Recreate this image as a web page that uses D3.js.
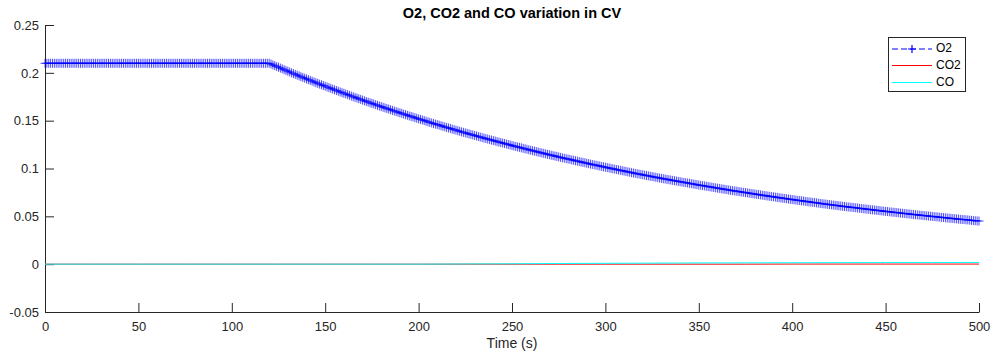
<!DOCTYPE html>
<html>
<head>
<meta charset="utf-8">
<script src="https://cdn.jsdelivr.net/npm/d3@7"></script>
<style>
  html, body { margin: 0; padding: 0; background: #fff; }
  svg { display: block; font-family: "Liberation Sans", Arial, sans-serif; }
</style>
</head>
<body>
<svg id="chart" width="995" height="358"></svg>
<script>
// Sample times (s) for the O2 trace, one per second from 0 to 500
const timeO2 = d3.range(0, 501, 1);

// O2 fraction in the control volume
const o2 = [
  0.21, 0.21, 0.21, 0.21, 0.21, 0.21, 0.21, 0.21, 0.21, 0.21,
  0.21, 0.21, 0.21, 0.21, 0.21, 0.21, 0.21, 0.21, 0.21, 0.21,
  0.21, 0.21, 0.21, 0.21, 0.21, 0.21, 0.21, 0.21, 0.21, 0.21,
  0.21, 0.21, 0.21, 0.21, 0.21, 0.21, 0.21, 0.21, 0.21, 0.21,
  0.21, 0.21, 0.21, 0.21, 0.21, 0.21, 0.21, 0.21, 0.21, 0.21,
  0.21, 0.21, 0.21, 0.21, 0.21, 0.21, 0.21, 0.21, 0.21, 0.21,
  0.21, 0.21, 0.21, 0.21, 0.21, 0.21, 0.21, 0.21, 0.21, 0.21,
  0.21, 0.21, 0.21, 0.21, 0.21, 0.21, 0.21, 0.21, 0.21, 0.21,
  0.21, 0.21, 0.21, 0.21, 0.21, 0.21, 0.21, 0.21, 0.21, 0.21,
  0.21, 0.21, 0.21, 0.21, 0.21, 0.21, 0.21, 0.21, 0.21, 0.21,
  0.21, 0.21, 0.21, 0.21, 0.21, 0.21, 0.21, 0.21, 0.21, 0.21,
  0.21, 0.21, 0.21, 0.21, 0.21, 0.21, 0.21, 0.21, 0.21, 0.21,
  0.2100, 0.2092, 0.2083, 0.2075, 0.2066, 0.2058, 0.2050, 0.2042, 0.2033, 0.2025,
  0.2017, 0.2009, 0.2000, 0.1992, 0.1984, 0.1976, 0.1968, 0.1960, 0.1952, 0.1944,
  0.1937, 0.1929, 0.1921, 0.1913, 0.1905, 0.1897, 0.1890, 0.1882, 0.1875, 0.1867,
  0.1860, 0.1852, 0.1845, 0.1838, 0.1830, 0.1823, 0.1815, 0.1808, 0.1800, 0.1793,
  0.1786, 0.1779, 0.1772, 0.1765, 0.1757, 0.1750, 0.1743, 0.1736, 0.1729, 0.1722,
  0.1715, 0.1708, 0.1701, 0.1694, 0.1687, 0.1680, 0.1674, 0.1667, 0.1660, 0.1653,
  0.1647, 0.1640, 0.1634, 0.1627, 0.1621, 0.1614, 0.1607, 0.1601, 0.1594, 0.1588,
  0.1582, 0.1576, 0.1569, 0.1563, 0.1556, 0.1550, 0.1544, 0.1538, 0.1531, 0.1525,
  0.1519, 0.1513, 0.1507, 0.1501, 0.1494, 0.1488, 0.1482, 0.1476, 0.1470, 0.1464,
  0.1459, 0.1453, 0.1447, 0.1441, 0.1435, 0.1429, 0.1424, 0.1418, 0.1412, 0.1406,
  0.1401, 0.1395, 0.1389, 0.1383, 0.1378, 0.1372, 0.1367, 0.1361, 0.1356, 0.1351,
  0.1345, 0.1340, 0.1334, 0.1329, 0.1323, 0.1318, 0.1313, 0.1308, 0.1302, 0.1297,
  0.1292, 0.1287, 0.1281, 0.1276, 0.1271, 0.1266, 0.1261, 0.1256, 0.1251, 0.1246,
  0.1240, 0.1235, 0.1230, 0.1225, 0.1221, 0.1216, 0.1211, 0.1206, 0.1201, 0.1196,
  0.1191, 0.1186, 0.1182, 0.1177, 0.1172, 0.1167, 0.1163, 0.1158, 0.1153, 0.1148,
  0.1144, 0.1139, 0.1135, 0.1130, 0.1126, 0.1121, 0.1116, 0.1111, 0.1107, 0.1103,
  0.1099, 0.1095, 0.1090, 0.1086, 0.1081, 0.1077, 0.1072, 0.1068, 0.1064, 0.1060,
  0.1055, 0.1051, 0.1046, 0.1042, 0.1038, 0.1034, 0.1030, 0.1026, 0.1021, 0.1017,
  0.1013, 0.1009, 0.1005, 0.1001, 0.0997, 0.0993, 0.0989, 0.0985, 0.0981, 0.0977,
  0.0973, 0.0969, 0.0965, 0.0961, 0.0957, 0.0953, 0.0949, 0.0945, 0.0942, 0.0938,
  0.0934, 0.0930, 0.0927, 0.0923, 0.0919, 0.0915, 0.0912, 0.0908, 0.0904, 0.0900,
  0.0897, 0.0893, 0.0890, 0.0886, 0.0883, 0.0879, 0.0876, 0.0872, 0.0869, 0.0865,
  0.0862, 0.0858, 0.0855, 0.0852, 0.0848, 0.0845, 0.0841, 0.0838, 0.0834, 0.0831,
  0.0827, 0.0824, 0.0821, 0.0818, 0.0814, 0.0811, 0.0808, 0.0805, 0.0801, 0.0798,
  0.0795, 0.0792, 0.0788, 0.0785, 0.0782, 0.0779, 0.0775, 0.0772, 0.0769, 0.0766,
  0.0763, 0.0760, 0.0757, 0.0754, 0.0751, 0.0748, 0.0745, 0.0742, 0.0739, 0.0736,
  0.0733, 0.0730, 0.0727, 0.0724, 0.0721, 0.0718, 0.0715, 0.0712, 0.0709, 0.0706,
  0.0704, 0.0701, 0.0698, 0.0695, 0.0692, 0.0689, 0.0687, 0.0684, 0.0681, 0.0678,
  0.0676, 0.0673, 0.0670, 0.0667, 0.0665, 0.0662, 0.0660, 0.0657, 0.0654, 0.0651,
  0.0649, 0.0646, 0.0644, 0.0641, 0.0638, 0.0635, 0.0633, 0.0630, 0.0628, 0.0625,
  0.0623, 0.0620, 0.0618, 0.0615, 0.0613, 0.0610, 0.0608, 0.0605, 0.0603, 0.0600,
  0.0598, 0.0596, 0.0594, 0.0592, 0.0589, 0.0587, 0.0584, 0.0582, 0.0579, 0.0577,
  0.0575, 0.0573, 0.0570, 0.0568, 0.0565, 0.0563, 0.0561, 0.0559, 0.0556, 0.0554,
  0.0552, 0.0550, 0.0547, 0.0545, 0.0543, 0.0541, 0.0539, 0.0537, 0.0534, 0.0532,
  0.0530, 0.0528, 0.0526, 0.0524, 0.0521, 0.0519, 0.0517, 0.0515, 0.0513, 0.0511,
  0.0509, 0.0507, 0.0505, 0.0503, 0.0501, 0.0499, 0.0497, 0.0495, 0.0493, 0.0491,
  0.0489, 0.0487, 0.0485, 0.0483, 0.0481, 0.0479, 0.0477, 0.0475, 0.0473, 0.0471,
  0.0469, 0.0467, 0.0466, 0.0464, 0.0462, 0.0460, 0.0458, 0.0456, 0.0454, 0.0452,
  0.0451
];

// Sample times (s) for the CO2 and CO traces
const timeGas = [0, 25, 50, 75, 100, 125, 150, 175, 200, 225, 250,
                 275, 300, 325, 350, 375, 400, 425, 450, 475, 500];

// CO2 fraction
const co2 = [0, 0, 0, 0, 0, 0, 0, 0, 0, 0, 0,
             0, 0, 0, 0, 0, 0.0001, 0.0001, 0.0001, 0.0001, 0.0001];

// CO fraction
const co = [0, 0, 0, 0, 0, 0, 0, 0, 0, 0.0002, 0.0004,
            0.0007, 0.0009, 0.0011, 0.0013, 0.0014, 0.0015, 0.0016, 0.0017, 0.0017, 0.0018];

// Axis ticks
const xTicks = [0, 50, 100, 150, 200, 250, 300, 350, 400, 450, 500];
const yTicks = [-0.05, 0, 0.05, 0.1, 0.15, 0.2, 0.25];
const yTickLabels = ["-0.05", "0", "0.05", "0.1", "0.15", "0.2", "0.25"];

const titleText = "O2, CO2 and CO variation in CV";
const xLabel = "Time (s)";
const seriesNames = ["O2", "CO2", "CO"];

const axisColor = "#262626";

const svg = d3.select("#chart");

const x = d3.scaleLinear().domain([0, 500]).range([45, 979]);
const y = d3.scaleLinear().domain([-0.05, 0.25]).range([312, 25]);

// Axes with inward ticks
const xAxis = d3.axisBottom(x)
  .tickValues(xTicks)
  .tickFormat(d3.format("d"))
  .tickSizeInner(-9)
  .tickSizeOuter(0)
  .tickPadding(10);

const yAxis = d3.axisLeft(y)
  .tickValues(yTicks)
  .tickFormat((d, i) => yTickLabels[i])
  .tickSizeInner(-9)
  .tickSizeOuter(0)
  .tickPadding(6);

const gx = svg.append("g")
  .attr("transform", `translate(0,${y.range()[0]})`)
  .call(xAxis);

const gy = svg.append("g")
  .attr("transform", `translate(${x.range()[0]},0)`)
  .call(yAxis);

[gx, gy].forEach(g => {
  g.selectAll("path.domain").attr("stroke", axisColor).attr("stroke-width", 1);
  g.selectAll(".tick line").attr("stroke", axisColor).attr("stroke-width", 1);
  g.selectAll(".tick text")
    .attr("fill", axisColor)
    .style("font-family", "'Liberation Sans', Arial, sans-serif")
    .style("font-size", "13px");
});

// Title
svg.append("text")
  .attr("x", (x.range()[0] + x.range()[1]) / 2)
  .attr("y", 14)
  .attr("text-anchor", "middle")
  .attr("dominant-baseline", "middle")
  .attr("fill", "#000")
  .style("font-size", "14.5px")
  .style("font-weight", "bold")
  .text(titleText);

// X axis label
svg.append("text")
  .attr("x", (x.range()[0] + x.range()[1]) / 2)
  .attr("y", 344)
  .attr("text-anchor", "middle")
  .attr("dominant-baseline", "middle")
  .attr("fill", axisColor)
  .style("font-size", "14px")
  .text(xLabel);

const plot = svg.append("g");

// O2: dashed blue line with plus markers
const o2Data = timeO2.map((t, i) => [t, o2[i]]);
const line = d3.line().x(d => x(d[0])).y(d => y(d[1]));

plot.append("path")
  .datum(o2Data)
  .attr("d", line)
  .attr("fill", "none")
  .attr("stroke", "#0000ff")
  .attr("stroke-width", 1)
  .attr("stroke-dasharray", "6,3");

const plusPath = (cx, cy, r) => `M${cx - r},${cy}H${cx + r}M${cx},${cy - r}V${cy + r}`;

plot.append("path")
  .attr("d", o2Data.map(d => plusPath(x(d[0]), y(d[1]), 4.5)).join(""))
  .attr("fill", "none")
  .attr("stroke", "#0000ff")
  .attr("stroke-width", 0.7);

// CO2 and CO near zero
const co2Data = timeGas.map((t, i) => [t, co2[i]]);
const coData = timeGas.map((t, i) => [t, co[i]]);

plot.append("path")
  .datum(co2Data)
  .attr("d", line)
  .attr("fill", "none")
  .attr("stroke", "#ff0000")
  .attr("stroke-width", 1);

plot.append("path")
  .datum(coData)
  .attr("d", line)
  .attr("fill", "none")
  .attr("stroke", "#00ffff")
  .attr("stroke-width", 1);

// Legend
const legend = svg.append("g");
legend.append("rect")
  .attr("x", 888.5).attr("y", 37.5)
  .attr("width", 77).attr("height", 54)
  .attr("fill", "#fff")
  .attr("stroke", axisColor)
  .attr("stroke-width", 1);

const legendRows = [
  { name: seriesNames[0], color: "#0000ff", dash: "6,3", marker: true, y: 49 },
  { name: seriesNames[1], color: "#ff0000", dash: null, marker: false, y: 65.5 },
  { name: seriesNames[2], color: "#00ffff", dash: null, marker: false, y: 82.5 }
];

legendRows.forEach(r => {
  legend.append("line")
    .attr("x1", 892).attr("x2", 932)
    .attr("y1", r.y).attr("y2", r.y)
    .attr("stroke", r.color)
    .attr("stroke-width", 1)
    .attr("stroke-dasharray", r.dash);
  if (r.marker) {
    legend.append("path")
      .attr("d", plusPath(912, r.y, 4))
      .attr("stroke", r.color)
      .attr("stroke-width", 1.2)
      .attr("fill", "none");
  }
  legend.append("text")
    .attr("x", 936)
    .attr("y", r.y)
    .attr("dominant-baseline", "middle")
    .attr("fill", "#000")
    .style("font-size", "12px")
    .text(r.name);
});
</script>
</body>
</html>
